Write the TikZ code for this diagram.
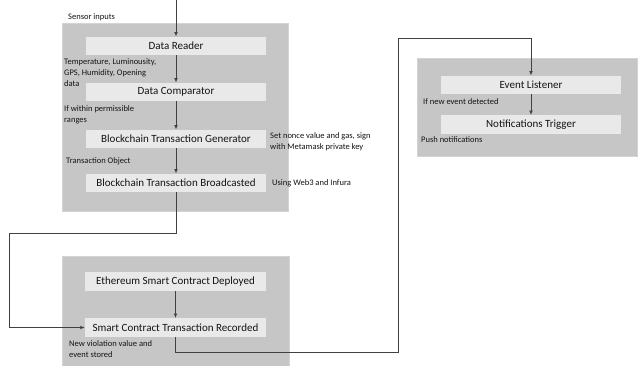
\documentclass[tikz,border=0pt]{standalone}
\usepackage{fontspec}
\setmainfont{Carlito}
\usetikzlibrary{arrows.meta}
\definecolor{groupfill}{RGB}{198,198,198}
\definecolor{groupedge}{RGB}{212,212,212}
\definecolor{stepfill}{RGB}{233,233,233}
\definecolor{wire}{RGB}{65,65,65}
\tikzset{
  group/.style={fill=groupfill, draw=groupedge, line width=0.6pt},
  stepbox/.style={fill=stepfill, draw=none, minimum width=180pt, minimum height=18.5pt,
                  inner sep=0pt, font=\fontsize{11}{12}\selectfont, text=black!92},
  note/.style={anchor=west, inner sep=0pt, align=left,
               font=\fontsize{8.5}{11}\selectfont, text=black!92},
  conn/.style={draw=wire, line width=1pt, -{Latex[length=4.5pt,width=3.8pt]}},
}
\begin{document}
\begin{tikzpicture}[x=1pt,y=-1pt]
\useasboundingbox[fill=white] (0,0) rectangle (638,365);

% grey group panels
\fill[group] (62,23) rectangle (288,211);
\fill[group] (62,256) rectangle (289,366);
\fill[group] (417,58) rectangle (637,156);

% device-side pipeline
\node[stepbox] (dr)  at (176,46)  {Data Reader};
\node[stepbox] (dc)  at (176,92)  {Data Comparator};
\node[stepbox] (btg) at (176,139) {Blockchain Transaction Generator};
\node[stepbox] (btb) at (176,183) {Blockchain Transaction Broadcasted};

% contract panel
\node[stepbox, minimum width=181pt] (esc) at (175.5,281.5) {Ethereum Smart Contract Deployed};
\node[stepbox, minimum width=181pt] (str) at (175.5,327.5) {Smart Contract Transaction Recorded};

% notification panel
\node[stepbox] (el) at (531,85)  {Event Listener};
\node[stepbox] (nt) at (531,124.5) {Notifications Trigger};

% annotations
\node[note] (n1) at (68,17) {Sensor inputs};
\node[note] (n2) at (64,73) {Temperature, Luminousity,\\GPS, Humidity, Opening\\data};
\node[note] (n3) at (64,114.5) {If within permissible\\ranges};
\node[note] (n4) at (66,161) {Transaction Object};
\node[note] (n5) at (270,141.5) {Set nonce value and gas, sign\\with Metamask private key};
\node[note] (n6) at (272,183) {Using Web3 and Infura};
\node[note] (n7) at (69,349.5) {New violation value and\\event stored};
\node[note] (n8) at (423,102) {If new event detected};
\node[note] (n9) at (421,140) {Push notifications};

% connectors
\coordinate (src) at (176,0);
\coordinate (k1) at (9,233);
\coordinate (k2) at (398,352);
\coordinate (k3) at (398,38);

\draw[conn] (src) -- (dr.north);
\draw[conn] (dr.south) -- (dc.north);
\draw[conn] (dc.south) -- (btg.north);
\draw[conn] (btg.south) -- (btb.north);
\draw[conn] (btb.south) -- (btb.south |- k1) -- (k1) |- (str.west);
\draw[conn] (esc.south) -- (str.north);
\draw[conn] (str.south) -- (str.south |- k2) -- (k2) -- (k3) -- (k3 -| el.north) -- (el.north);
\draw[conn] (el.south) -- (nt.north);
\end{tikzpicture}
\end{document}
